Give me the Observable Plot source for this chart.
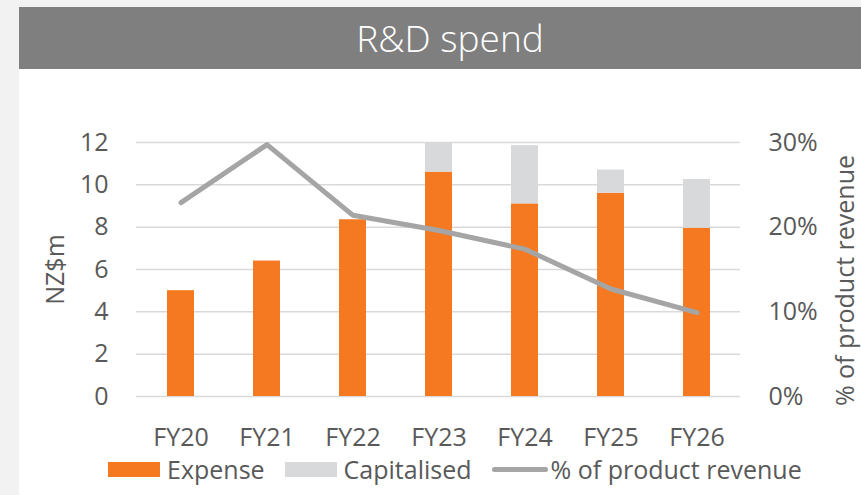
<!DOCTYPE html>
<html>
<head>
<meta charset="utf-8">
<script src="https://cdn.jsdelivr.net/npm/d3@7"></script>
<script src="https://cdn.jsdelivr.net/npm/@observablehq/plot@0.6"></script>
<style>
  html, body { margin: 0; padding: 0; width: 861px; height: 495px; overflow: hidden; background: #f2f2f2; font-family: "Open Sans", sans-serif; }
  #panel { position: absolute; left: 19px; top: 7px; width: 862px; height: 488px; background: #ffffff; }
  #title { height: 62px; line-height: 62px; background: #7f7f7f; color: #ffffff; text-align: center; font-size: 37px; font-weight: 300; }
  #chart { position: absolute; left: 0; top: 62px; }
  #legend { position: absolute; left: 89px; top: 440px; height: 44px; display: flex; align-items: center; font-size: 25px; color: #595959; }
  .item { display: flex; align-items: center; margin-right: 20px; }
  .sw { width: 52px; height: 15px; margin-right: 7px; }
  .ln { width: 56px; height: 5px; border-radius: 3px; background: #a5a5a5; margin-right: 3px; }
</style>
</head>
<body>
<div id="panel">
  <div id="title">R&amp;D spend</div>
  <div id="chart"></div>
  <div id="legend"></div>
</div>
<script>
const years = ["FY20", "FY21", "FY22", "FY23", "FY24", "FY25", "FY26"];
const expense = [5.0, 6.4, 8.35, 10.6, 9.1, 9.6, 7.95];
const capitalised = [0, 0, 0, 1.37, 2.75, 1.1, 2.3];
const pctRevenue = [22.9, 29.75, 21.4, 19.6, 17.4, 12.7, 9.9];
const seriesNames = ["Expense", "Capitalised"];
const seriesColors = ["#f47920", "#d8d9da"];
const lineName = "% of product revenue";
const lineColor = "#a5a5a5";
const leftTicks = [0, 2, 4, 6, 8, 10, 12];
const rightTicks = [0, 10, 20, 30];
const leftMax = 12, rightMax = 30;

const barRows = [];
years.forEach((y, i) => {
  barRows.push({year: y, series: seriesNames[0], value: expense[i]});
  barRows.push({year: y, series: seriesNames[1], value: capitalised[i]});
});
const lineRows = years.map((y, i) => ({year: y, pct: pctRevenue[i]}));
const toLeft = p => p * leftMax / rightMax;

const chart = Plot.plot({
  width: 842,
  height: 385,
  marginLeft: 117,
  marginRight: 121,
  marginTop: 73,
  marginBottom: 58,
  style: {fontFamily: "Open Sans, sans-serif", fontSize: "25px", color: "#595959", background: "transparent", overflow: "visible"},
  x: {type: "band", domain: years, paddingInner: 0.69, paddingOuter: 0.345},
  y: {domain: [0, leftMax]},
  color: {domain: seriesNames, range: seriesColors},
  marks: [
    Plot.gridY(leftTicks, {stroke: "#d9d9d9", strokeOpacity: 1, strokeWidth: 1.5}),
    Plot.barY(barRows, {x: "year", y: "value", fill: "series"}),
    Plot.line(lineRows, {x: "year", y: d => toLeft(d.pct), stroke: lineColor, strokeWidth: 5, strokeLinejoin: "round", strokeLinecap: "round"}),
    Plot.axisY(leftTicks, {anchor: "left", tickSize: 0, tickPadding: 28, label: null}),
    Plot.axisY(rightTicks.map(toLeft), {anchor: "right", tickSize: 0, tickPadding: 28, label: null, tickFormat: d => Math.round(d * rightMax / leftMax) + "%"}),
    Plot.axisX({tickSize: 0, tickPadding: 32, label: null}),
    Plot.text(["NZ$m"], {frameAnchor: "left", textAnchor: "middle", text: d => d, rotate: -90, dx: -81, fill: "#595959"}),
    Plot.text([lineName], {frameAnchor: "right", textAnchor: "middle", text: d => d, rotate: -90, dx: 105, dy: 11, fill: "#595959"})
  ]
});
document.getElementById("chart").appendChild(chart);

const legend = document.getElementById("legend");
seriesNames.forEach((name, i) => {
  const it = document.createElement("div");
  it.className = "item";
  it.innerHTML = `<div class="sw" style="background:${seriesColors[i]}"></div><span>${name}</span>`;
  legend.appendChild(it);
});
const li = document.createElement("div");
li.className = "item";
li.innerHTML = `<div class="ln"></div><span>${lineName}</span>`;
legend.appendChild(li);
</script>
</body>
</html>
